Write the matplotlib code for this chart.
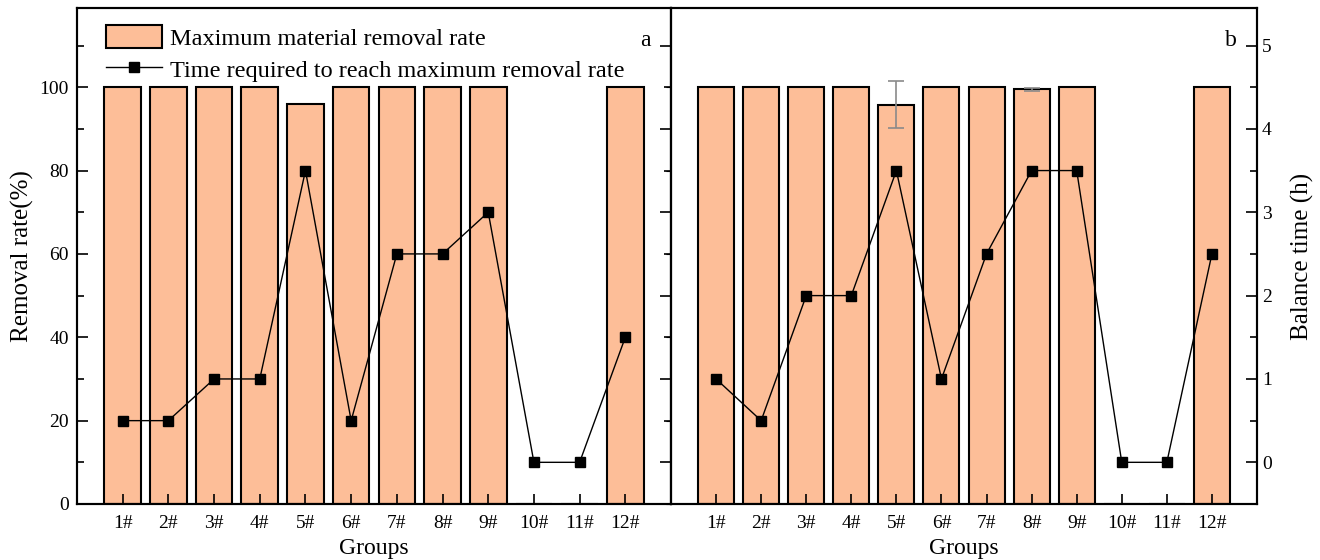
import matplotlib
matplotlib.use("Agg")
import matplotlib.pyplot as plt
from matplotlib.ticker import MultipleLocator
import numpy as np

plt.rcParams['font.family'] = ['Liberation Serif', 'DejaVu Serif']

groups = ['1#', '2#', '3#', '4#', '5#', '6#', '7#', '8#', '9#', '10#', '11#', '12#']
removal_a = [100, 100, 100, 100, 96, 100, 100, 100, 100, 0, 0, 100]
time_a = [0.5, 0.5, 1, 1, 3.5, 0.5, 2.5, 2.5, 3, 0, 0, 1.5]
removal_b = [100, 100, 100, 100, 95.8, 100, 100, 99.5, 100, 0, 0, 100]
err_b = [0, 0, 0, 0, 5.7, 0, 0, 0.3, 0, 0, 0, 0]
time_b = [1, 0.5, 2, 2, 3.5, 1, 2.5, 3.5, 3.5, 0, 0, 2.5]

bar_color = '#FDBE98'
W, H = 1320, 560
fig = plt.figure(figsize=(W / 100, H / 100), dpi=100)

axA = fig.add_axes([77 / W, 1 - 504 / H, (671 - 77) / W, (504 - 8) / H])
axB = fig.add_axes([671 / W, 1 - 504 / H, (1257 - 671) / W, (504 - 8) / H])

x = np.arange(1, len(groups) + 1)
tick_fs = 14
label_fs = 17
ylabel_fs = 18

def style_base(ax):
    ax.set_xlim(0, 13)
    ax.set_ylim(0, 119)
    ax.set_xticks(x)
    ax.set_xticklabels(groups, fontsize=tick_fs)
    ax.tick_params(axis='x', direction='in', length=7, width=1.2, pad=8)
    for s in ax.spines.values():
        s.set_linewidth(1.5)
    ax.set_xlabel('Groups', fontsize=label_fs, labelpad=4)

def style_twin(tx, labels):
    tx.set_ylim((0 - 10) / 20, (119 - 10) / 20)
    tx.yaxis.set_major_locator(MultipleLocator(1))
    tx.yaxis.set_minor_locator(MultipleLocator(0.5))
    tx.set_yticks([0, 1, 2, 3, 4, 5])
    tx.tick_params(axis='y', which='major', direction='in', length=8, width=1.2, labelsize=tick_fs)
    tx.tick_params(axis='y', which='minor', direction='in', length=5, width=1.2)
    if not labels:
        tx.tick_params(axis='y', which='both', labelright=False)
    for s in tx.spines.values():
        s.set_linewidth(1.5)

# Panel a
style_base(axA)
bars_a = axA.bar(x, removal_a, width=0.8, color=bar_color, edgecolor='black', linewidth=1.5)
axA.set_yticks([0, 20, 40, 60, 80, 100])
axA.yaxis.set_minor_locator(MultipleLocator(10))
axA.tick_params(axis='y', which='major', direction='in', length=8, width=1.2, labelsize=tick_fs, pad=6)
axA.tick_params(axis='y', which='minor', direction='in', length=5, width=1.2)
axA.set_ylabel('Removal rate(%)', fontsize=ylabel_fs, labelpad=4)
txA = axA.twinx()
style_twin(txA, labels=False)
lineA, = txA.plot(x, time_a, color='black', linewidth=1, marker='s', markersize=7.5)
axA.text(0.965, 0.955, 'a', transform=axA.transAxes, fontsize=label_fs, ha='right', va='top')

axA.legend([bars_a, lineA],
           ['Maximum material removal rate', 'Time required to reach maximum removal rate'],
           loc='upper left', bbox_to_anchor=(0.02, 1.0), frameon=False, fontsize=17.5,
           handlelength=2.3, handleheight=1.1, handletextpad=0.35, labelspacing=0.3,
           borderaxespad=0.3)

# Panel b
style_base(axB)
axB.bar(x, removal_b, width=0.8, color=bar_color, edgecolor='black', linewidth=1.5)
idx = [i for i, e in enumerate(err_b) if e > 0]
axB.errorbar(x[idx], [removal_b[i] for i in idx], yerr=[err_b[i] for i in idx], fmt='none',
             ecolor='#8a8a8a', elinewidth=1.2, capsize=6, capthick=1.2, zorder=3)
axB.tick_params(axis='y', which='both', left=False, labelleft=False)
txB = axB.twinx()
style_twin(txB, labels=True)
txB.plot(x, time_b, color='black', linewidth=1, marker='s', markersize=7.5)
txB.set_ylabel('Balance time (h)', fontsize=ylabel_fs, labelpad=14)
axB.text(0.965, 0.955, 'b', transform=axB.transAxes, fontsize=label_fs, ha='right', va='top')

fig.savefig('out.png', dpi=100, facecolor='white')
